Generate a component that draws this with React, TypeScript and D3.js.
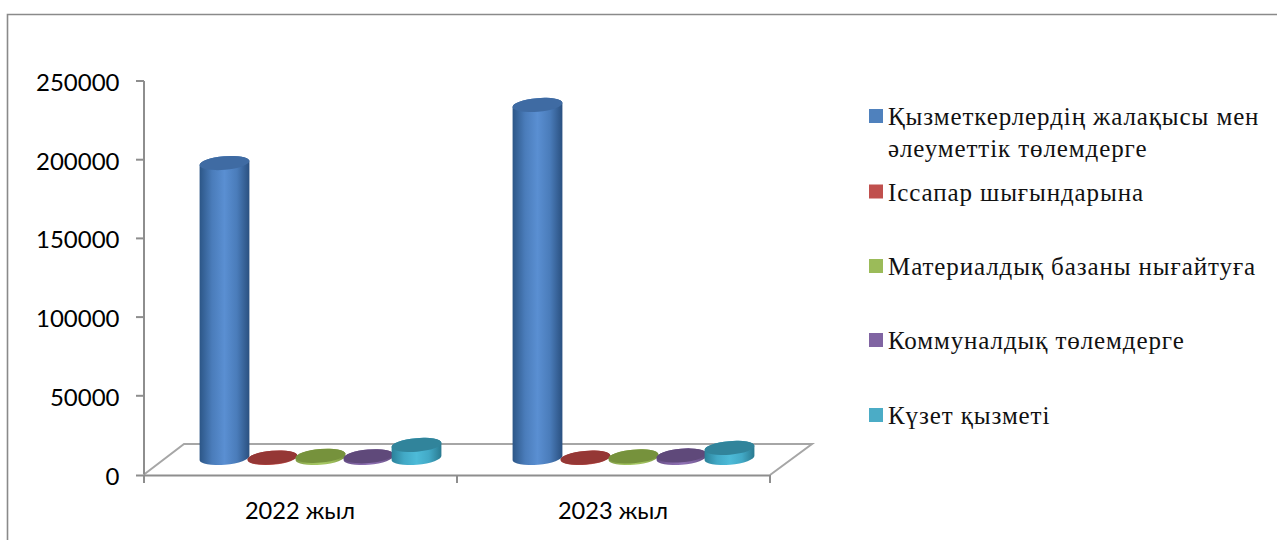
import React from "react";
import * as d3 from "d3";

const categories = ["2022 жыл", "2023 жыл"];
const seriesNames = ["Қызметкерлердің жалақысы мен|әлеуметтік төлемдерге", "Іссапар шығындарына", "Материалдық базаны нығайтуға", "Коммуналдық төлемдерге", "Күзет қызметі"];
const salaries = [187400, 224300];
const travel = [300, 200];
const materials = [1400, 1000];
const utilities = [1100, 1600];
const security = [8300, 6400];
const yTicks = [0, 50000, 100000, 150000, 200000, 250000];

const seriesValues = [salaries, travel, materials, utilities, security];
const sideStops = [
  ["#2c5687", "#4a7cba", "#5a8fd2", "#4a7cba", "#2a5080"],
  ["#a03d3a", "#c0504d", "#d0605c", "#c0504d", "#993a38"],
  ["#7f9a45", "#9bbb59", "#a8c966", "#9bbb59", "#78923f"],
  ["#644c85", "#8064a2", "#8f72b4", "#8064a2", "#5f497a"],
  ["#2b8199", "#42a9c6", "#4dbbd8", "#42a9c6", "#2a7a90"],
];
const topColors = ["#3f6ba3", "#953735", "#76923c", "#5f497a", "#31849b"];
const swatchColors = ["#4f81bd", "#c0504d", "#9bbb59", "#8064a2", "#4bacc6"];
const legendBaselines = [125, 200.5, 275, 349, 424];

const y = d3.scaleLinear().domain([0, 250000]).range([474.5, 81]);
const x = d3.scaleBand<string>().domain(categories).range([144, 770]);
const s = d3.scaleBand<number>().domain(d3.range(5)).range([-120, 120]);

const depthX = 20;
const baseY = 458;
const rx = 25;
const ry = 6.8;
const rot = -5;
const sin = Math.sin((rot * Math.PI) / 180);
const cos = Math.cos((rot * Math.PI) / 180);
const axisColor = "#8e8e8e";
const floorColor = "#a6a6a6";

function Cylinder({ cx, h, i }: { cx: number; h: number; i: number }) {
  const top = baseY - h;
  const dx = rx * cos;
  const dy = rx * sin;
  const a = `${rx} ${ry} ${rot}`;
  const side = `M${cx - dx} ${top - dy}L${cx - dx} ${baseY - dy}A${a} 0 0 ${cx + dx} ${baseY + dy}L${cx + dx} ${top + dy}A${a} 0 0 ${cx - dx} ${top - dy}Z`;
  return (
    <g>
      <path d={side} fill={`url(#side${i})`} />
      <ellipse cx={0} cy={0} rx={rx} ry={ry} fill={topColors[i]} transform={`translate(${cx} ${top}) rotate(${rot})`} />
    </g>
  );
}

export default function App() {
  const unit = y(0) - y(1);
  return (
    <svg width={1277} height={540} style={{ position: "absolute", left: 0, top: 0 }}>
      <defs>
        {sideStops.map((stops, i) => (
          <linearGradient key={i} id={`side${i}`} x1="0" x2="1" y1="0" y2="0">
            {stops.map((c, j) => (
              <stop key={j} offset={[0, 0.25, 0.5, 0.75, 1][j]} stopColor={c} />
            ))}
          </linearGradient>
        ))}
      </defs>
      <rect width={1277} height={540} fill="#fff" />
      <path d="M1277 14.5H7.5V540" fill="none" stroke="#8a8a8a" strokeWidth={1.6} />

      <path
        d={`M144 ${y(0)}L184 444H812L770 ${y(0) + 0.5}`}
        fill="none"
        stroke={floorColor}
        strokeWidth={2}
      />
      <path d={`M144 ${y(250000)}V${y(0)}`} stroke={axisColor} strokeWidth={2} fill="none" />
      <path d={`M136 475.5H770`} stroke={axisColor} strokeWidth={2} fill="none" />
      {yTicks.slice(1).map((t) => (
        <line key={t} x1={136} x2={144} y1={y(t)} y2={y(t)} stroke={axisColor} strokeWidth={2} />
      ))}
      {[144, ...categories.map((c) => (x(c) as number) + x.bandwidth())].map((px) => (
        <line key={px} x1={px} x2={px} y1={475} y2={483} stroke={axisColor} strokeWidth={2} />
      ))}

      {yTicks.map((t) => (
        <text key={t} x={119.5} y={y(t) + 10} textAnchor="end" fontFamily="Lato, Carlito, 'Open Sans', sans-serif" fontSize={24} fill="#000">
          {t}
        </text>
      ))}
      {categories.map((c) => (
        <text key={c} x={(x(c) as number) + x.bandwidth() / 2 - 0.5} y={519} textAnchor="middle" fontFamily="Lato, Carlito, 'Open Sans', sans-serif" fontSize={23.6} fill="#000">
          {c}
        </text>
      ))}

      {categories.map((c, ci) =>
        seriesValues.map((vals, i) => (
          <Cylinder
            key={`${c}${i}`}
            cx={(x(c) as number) + x.bandwidth() / 2 + depthX + (s(i) as number) + s.bandwidth() / 2}
            h={vals[ci] * unit}
            i={i}
          />
        ))
      )}

      {seriesNames.map((n, i) => (
        <g key={n}>
          <rect x={869} y={legendBaselines[i] - 16} width={14} height={14} fill={swatchColors[i]} />
          {n.split("|").map((line, k) => (
            <text key={k} x={888} y={legendBaselines[i] + k * 32} fontFamily="'Liberation Serif', serif" fontSize={25} letterSpacing={0.9} fill="#111">
              {line}
            </text>
          ))}
        </g>
      ))}
    </svg>
  );
}
